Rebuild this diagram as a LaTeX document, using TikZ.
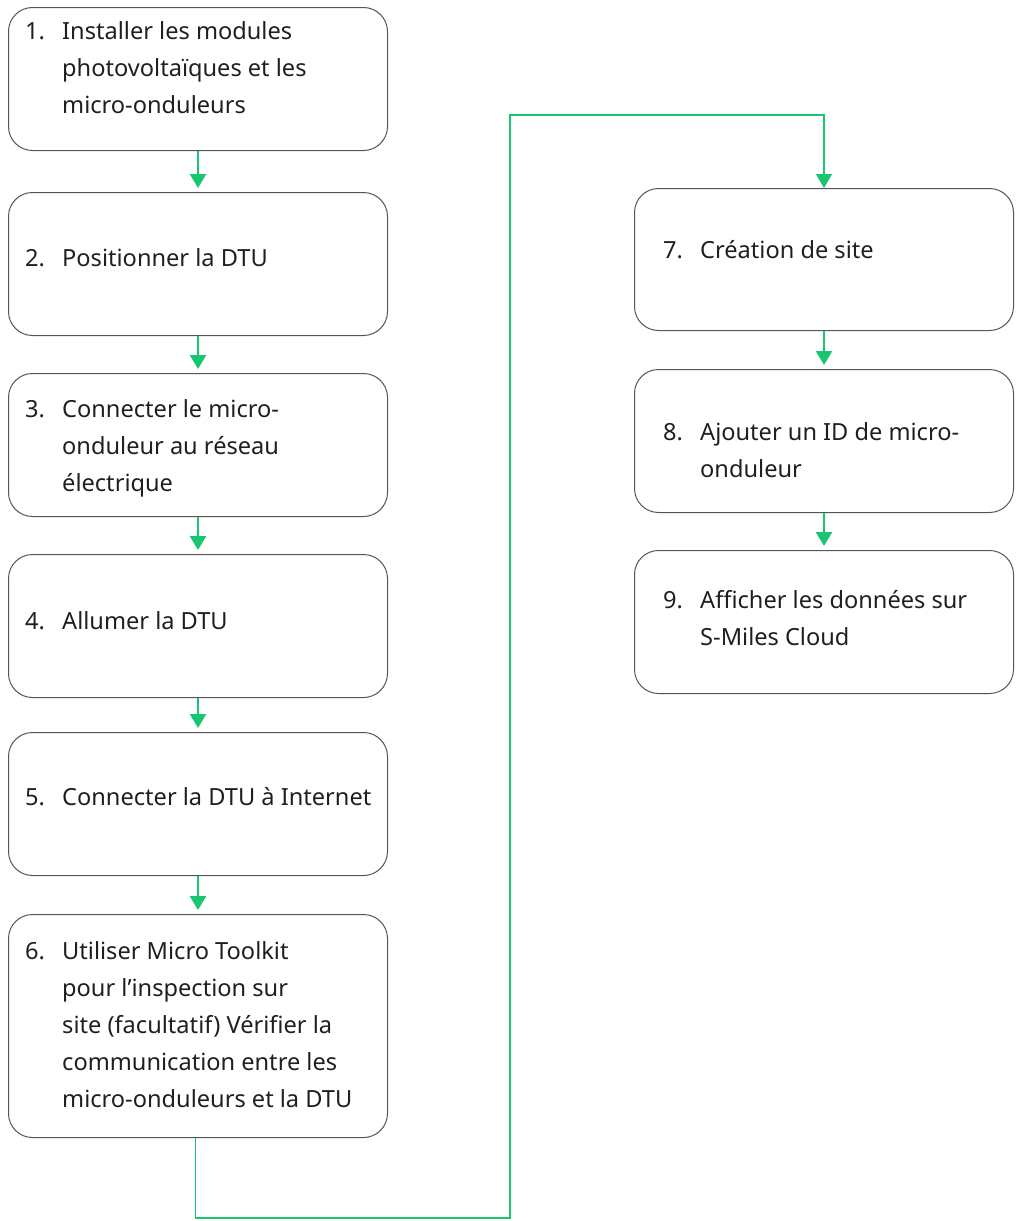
\documentclass[tikz,border=0pt]{standalone}
\usepackage{fontspec}
\setmainfont{Noto Sans}
\usetikzlibrary{arrows.meta}
\definecolor{flowgreen}{RGB}{24,198,113}
\definecolor{boxgray}{RGB}{85,85,85}
\newcommand{\steptext}[2]{\makebox[37pt][l]{#1}\parbox[t]{330pt}{\fontsize{23.6}{37}\selectfont #2}}
\begin{document}
\begin{tikzpicture}[x=1pt,y=-1pt,
  stepbox/.style={draw=boxgray,line width=1pt,rounded corners=24pt,minimum width=379pt,inner sep=0pt,anchor=north west},
  steplabel/.style={anchor=base west,inner sep=0pt,font=\fontsize{23.6}{37}\selectfont,text=black!88},
  arrowdown/.style={draw=flowgreen,line width=2.5pt,-{Triangle[width=16pt,length=14pt]},shorten >=4pt},
  looplink/.style={draw=flowgreen,line width=1.5pt,-{Triangle[width=16pt,length=14pt]}}]
\useasboundingbox (0,0) rectangle (1017,1221);
% left column
\node[stepbox,minimum height=143pt] (b1) at (8,7) {};
\node[stepbox,minimum height=143pt] (b2) at (8,192) {};
\node[stepbox,minimum height=143pt] (b3) at (8,373) {};
\node[stepbox,minimum height=143pt] (b4) at (8,554) {};
\node[stepbox,minimum height=143pt] (b5) at (8,732) {};
\node[stepbox,minimum height=223pt] (b6) at (8,914) {};
% right column
\node[stepbox,minimum height=142pt] (b7) at (634,188) {};
\node[stepbox,minimum height=143pt] (b8) at (634,369) {};
\node[stepbox,minimum height=143pt] (b9) at (634,550) {};
% texts
\node[steplabel] (t1) at (25,39) {\steptext{1.}{Installer les modules\\photovoltaïques et les\\micro-onduleurs}};
\node[steplabel] (t2) at (25,266) {\steptext{2.}{Positionner la DTU}};
\node[steplabel] (t3) at (25,417) {\steptext{3.}{Connecter le micro-\\onduleur au réseau\\électrique}};
\node[steplabel] (t4) at (25,629) {\steptext{4.}{Allumer la DTU}};
\node[steplabel] (t5) at (25,805) {\steptext{5.}{Connecter la DTU à Internet}};
\node[steplabel] (t6) at (25,959) {\steptext{6.}{Utiliser Micro Toolkit\\pour l’inspection sur\\site (facultatif) Vérifier la\\communication entre les\\micro-onduleurs et la DTU}};
\node[steplabel] (t7) at (663,258) {\steptext{7.}{Création de site}};
\node[steplabel] (t8) at (663,440) {\steptext{8.}{Ajouter un ID de micro-\\onduleur}};
\node[steplabel] (t9) at (663,608) {\steptext{9.}{Afficher les données sur\\S-Miles Cloud}};
% arrows
\draw[arrowdown] (b1.south) -- (b2.north);
\draw[arrowdown] (b2.south) -- (b3.north);
\draw[arrowdown] (b3.south) -- (b4.north);
\draw[arrowdown] (b4.south) -- (b5.north);
\draw[arrowdown] (b5.south) -- (b6.north);
\draw[arrowdown] (b7.south) -- (b8.north);
\draw[arrowdown] (b8.south) -- (b9.north);
\coordinate (bend1) at (510,1218);
\coordinate (bend2) at (510,115);
\draw[looplink] ([xshift=-2.5pt]b6.south) |- (bend1) -- (bend2) -| (b7.north);
\end{tikzpicture}
\end{document}
